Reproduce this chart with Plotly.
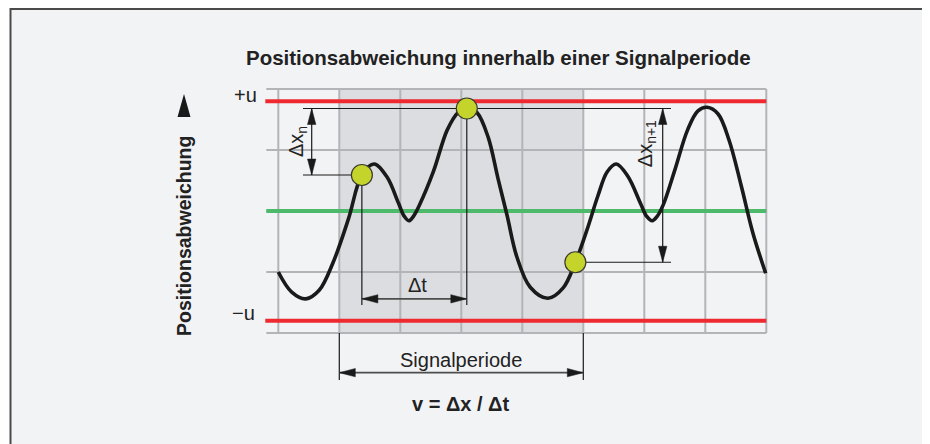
import plotly.graph_objects as go

# ---------------- data (grid units: 1 unit = one grid cell) ----------------
grid_cols = [0, 1, 2, 3, 4, 5, 6, 7, 8]
grid_rows = [-2, -1, 0, 1, 2]
u_level = 1.8                     # +u / -u tolerance band
period_start, period_end = 1, 5   # one signal period (shaded)

curve_x = [0.0, 0.22, 0.45, 0.67, 0.90, 1.15, 1.37, 1.57, 1.78, 1.97, 2.06, 2.14, 2.22, 2.32,
           2.54, 2.77, 2.95, 3.09, 3.26, 3.44, 3.60, 3.75, 3.91, 4.13, 4.42, 4.67, 4.87,
           5.06, 5.24, 5.39, 5.54, 5.73, 5.94, 6.04, 6.13, 6.21, 6.31, 6.50, 6.71, 6.88,
           7.03, 7.21, 7.39, 7.59, 7.78, 7.99]
curve_y = [-1.00, -1.33, -1.44, -1.30, -0.84, -0.13, 0.59, 0.77, 0.56, 0.13, -0.08, -0.16,
           -0.08, 0.11, 0.64, 1.33, 1.62, 1.70, 1.61, 1.21, 0.54, -0.07, -0.75, -1.25, -1.43,
           -1.26, -0.84, -0.31, 0.25, 0.64, 0.77, 0.57, 0.12, -0.09, -0.16, -0.09, 0.10,
           0.67, 1.33, 1.64, 1.70, 1.59, 1.16, 0.41, -0.36, -1.02]

key_x = [1.37, 3.09, 4.87]        # marked points n, peak, n+1
key_y = [0.59, 1.68, -0.84]

title_text = "Positionsabweichung innerhalb einer Signalperiode"
ylabel_text = "Positionsabweichung"
formula_text = "v = Δx / Δt"

# ---------------- geometry helpers ----------------
PX = 61.0          # pixels per grid unit
X0_PX = 278.3      # page pixel x of grid column 0
Y0_PX = 211.0      # page pixel y of row 0 (green line)
OFF = 8            # page body margin around the figure
PAGE_W, PAGE_H = 930, 444
W, H = PAGE_W - OFF, PAGE_H - OFF

def px(n):
    return n / PX

FONT = "Liberation Sans"
INK = "#222222"
GRID = "#b3b4b7"

shapes = []

def line(x0, y0, x1, y1, color, width, layer="below"):
    shapes.append(dict(type="line", xref="x", yref="y", x0=x0, y0=y0, x1=x1, y1=y1,
                       line=dict(color=color, width=width), layer=layer))

def arrowhead(tx, ty, dx, dy, length=16, half=4.2, color="#1a1a1a"):
    L, h = px(length), px(half)
    bx, by = tx - dx * L, ty - dy * L
    qx, qy = -dy * h, dx * h
    path = f"M{tx},{ty} L{bx + qx},{by + qy} L{bx - qx},{by - qy} Z"
    shapes.append(dict(type="path", xref="x", yref="y", path=path,
                       fillcolor=color, line=dict(color=color, width=0.5), layer="above"))

# panel with frame (left, top, right)
shapes.append(dict(type="rect", xref="paper", yref="paper",
                   x0=(10.5 - OFF) / W, x1=(927 - OFF) / W, y0=-0.1, y1=(PAGE_H - 9) / H,
                   fillcolor="#f2f3f5", line=dict(color="#4a4a4a", width=2), layer="below"))

# shaded signal period
shapes.append(dict(type="rect", xref="x", yref="y", x0=period_start, x1=period_end,
                   y0=grid_rows[0], y1=grid_rows[-1], fillcolor="#dcdde0",
                   line=dict(width=0), layer="below"))

# grid
for c in grid_cols:
    line(c, grid_rows[0], c, grid_rows[-1], GRID, 2)
for r in grid_rows:
    line(-px(12), r, grid_cols[-1], r, GRID, 2)

# tolerance and zero lines
line(-px(13), u_level, grid_cols[-1], u_level, "#ee2a30", 4)
line(-px(13), -u_level, grid_cols[-1], -u_level, "#ee2a30", 4)
line(-px(12), 0, grid_cols[-1], 0, "#4cb96b", 4)

DIM = "#1a1a1a"
# Δx_n dimension
dxn_x = px(311.7 - X0_PX)
ext_left = px(303 - X0_PX)
ext_right = px(671 - X0_PX)
line(ext_left, key_y[1], ext_right, key_y[1], DIM, 1.2)
line(ext_left, key_y[0], key_x[0], key_y[0], DIM, 1.2)
line(dxn_x, key_y[0], dxn_x, key_y[1], DIM, 1.2)
arrowhead(dxn_x, key_y[1], 0, 1)
arrowhead(dxn_x, key_y[0], 0, -1)

# Δx_n+1 dimension
dxn1_x = px(662.7 - X0_PX)
line(key_x[2], key_y[2], ext_right, key_y[2], DIM, 1.2)
line(dxn1_x, key_y[2], dxn1_x, key_y[1], DIM, 1.2)
arrowhead(dxn1_x, key_y[1], 0, 1)
arrowhead(dxn1_x, key_y[2], 0, -1)

# Δt dimension
dt_y = -1.44
dt_bottom = -1.54
line(key_x[0], key_y[0], key_x[0], dt_bottom, DIM, 1.2)
line(key_x[1], key_y[1], key_x[1], dt_bottom, DIM, 1.2)
line(key_x[0], dt_y, key_x[1], dt_y, "#4d4d4d", 1.8)
arrowhead(key_x[0], dt_y, -1, 0)
arrowhead(key_x[1], dt_y, 1, 0)

# Signal period dimension
sp_y = -2.65
sp_bottom = -2.77
line(period_start, grid_rows[0], period_start, sp_bottom, DIM, 1.2)
line(period_end, grid_rows[0], period_end, sp_bottom, DIM, 1.2)
line(period_start, sp_y, period_end, sp_y, "#4d4d4d", 1.8)
arrowhead(period_start, sp_y, -1, 0)
arrowhead(period_end, sp_y, 1, 0)

# y-axis arrow ▲
ax_x = px(184 - X0_PX)
ay_base = px(Y0_PX - 117)
ay_tip = px(Y0_PX - 94)
shapes.append(dict(type="path", xref="x", yref="y",
                   path=f"M{ax_x},{ay_tip} L{ax_x + px(6.5)},{ay_base} L{ax_x - px(6.5)},{ay_base} Z",
                   fillcolor="#1a1a1a", line=dict(width=0), layer="above"))

fig = go.Figure()
fig.add_trace(go.Scatter(x=curve_x, y=curve_y, mode="lines",
                         line=dict(color="#1a1a1a", width=3.6, shape="spline", smoothing=1.0),
                         hoverinfo="skip", showlegend=False))
fig.add_trace(go.Scatter(x=key_x, y=key_y, mode="markers",
                         marker=dict(size=21, color="#c4d42b", line=dict(color="#3a3a30", width=1.2)),
                         hoverinfo="skip", showlegend=False))

def ann(x, y, text, size=20, bold=False, angle=0, color=INK):
    t = f"<b>{text}</b>" if bold else text
    return dict(x=x, y=y, xref="x", yref="y", text=t, showarrow=False, textangle=angle,
                font=dict(family=FONT, size=size, color=color), xanchor="center", yanchor="middle")

annotations = [
    ann(px(498 - X0_PX), px(Y0_PX - 57), title_text, size=20.5, bold=True),
    ann(ax_x, px(Y0_PX - 236), ylabel_text, size=19.5, bold=True, angle=-90),
    ann(px(245 - X0_PX), px(Y0_PX - 95), "+u", size=20),
    ann(px(243 - X0_PX), px(Y0_PX - 313), "−u", size=20),
    ann(px(297 - X0_PX), px(Y0_PX - 142), "Δx<sub>n</sub>", size=20, angle=-90),
    ann(px(646.7 - X0_PX), px(Y0_PX - 143.5), "Δx<sub>n+1</sub>", size=20, angle=-90),
    ann(px(417 - X0_PX), px(Y0_PX - 285), "Δt", size=20),
    ann((period_start + period_end) / 2, px(Y0_PX - 360), "Signalperiode", size=20),
    ann(px(460 - X0_PX), px(Y0_PX - 404), formula_text, size=20, bold=True),
]

fig.update_layout(
    width=W, height=H,
    margin=dict(l=0, r=0, t=0, b=0),
    paper_bgcolor="#ffffff",
    plot_bgcolor="rgba(0,0,0,0)",
    shapes=shapes,
    annotations=annotations,
    xaxis=dict(range=[(OFF - X0_PX) / PX, (PAGE_W - X0_PX) / PX], visible=False, fixedrange=True),
    yaxis=dict(range=[-(PAGE_H - Y0_PX) / PX, (Y0_PX - OFF) / PX], visible=False, fixedrange=True),
    showlegend=False,
)

fig.write_html("out.html")
